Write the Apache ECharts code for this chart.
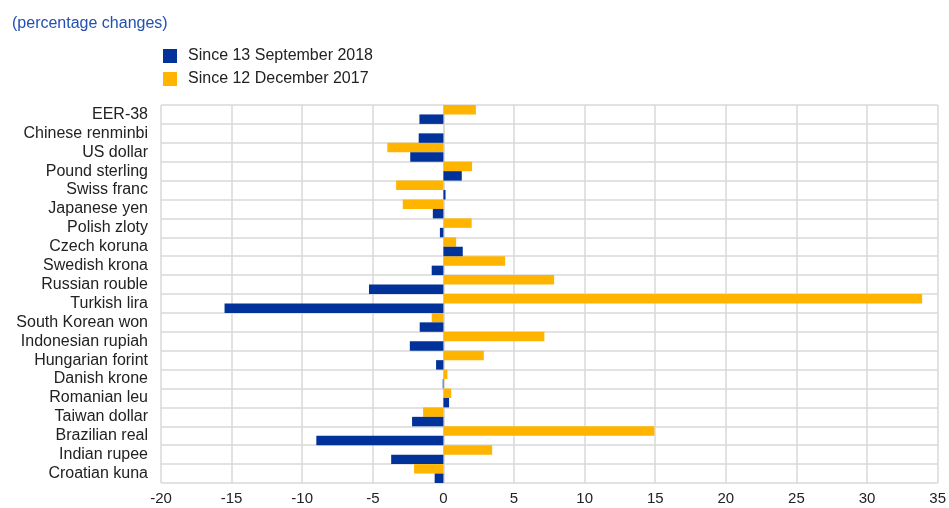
<!DOCTYPE html>
<html>
<head>
<meta charset="utf-8">
<script src="https://cdn.jsdelivr.net/npm/echarts@6/dist/echarts.min.js"></script>
<style>
  html, body { margin:0; padding:0; background:#fff; }
  #chart { width:949px; height:508px; }
</style>
</head>
<body>
<div id="chart"></div>
<script>

var currencies = ["EER-38","Chinese renminbi","US dollar","Pound sterling","Swiss franc","Japanese yen","Polish zloty","Czech koruna","Swedish krona","Russian rouble","Turkish lira","South Korean won","Indonesian rupiah","Hungarian forint","Danish krone","Romanian leu","Taiwan dollar","Brazilian real","Indian rupee","Croatian kuna"];

var sinceSep2018 = [-1.7,-1.75,-2.35,1.3,0.15,-0.75,-0.25,1.37,-0.83,-5.27,-15.5,-1.68,-2.38,-0.52,-0.05,0.4,-2.22,-9.0,-3.7,-0.62];

var sinceDec2017 = [2.3,0,-3.97,2.03,-3.35,-2.88,2.0,0.9,4.37,7.84,33.9,-0.83,7.15,2.86,0.28,0.55,-1.44,14.94,3.45,-2.08];

var xTicks = [-20,-15,-10,-5,0,5,10,15,20,25,30,35];

var chart = echarts.init(document.getElementById("chart"));

var option = {
  animation:false,
  textStyle:{
    fontFamily:"Liberation Sans, Arial, sans-serif"
  },

  title:{
    text:"(percentage changes)",
    left:7,
    top:11,
    textStyle:{
      color:"#2250b0",
      fontSize:16,
      fontWeight:"normal"
    }
  },

  legend:{
    orient:"vertical",
    left:158,
    top:43,
    icon:"rect",
    itemWidth:14,
    itemHeight:14,
    itemGap:7,
    data:["Since 13 September 2018","Since 12 December 2017"],
    textStyle:{
      color:"#222",
      fontSize:16,
      padding:[0,0,0,6]
    }
  },

  grid:{
    left:161,
    right:10,
    top:105,
    bottom:25
  },

  xAxis:{
    type:"value",
    min:xTicks[0],
    max:xTicks[xTicks.length-1],
    interval:5,
    axisLine:{show:false},
    axisTick:{show:false},
    axisLabel:{
      color:"#222",
      fontSize:15,
      margin:8
    },
    splitLine:{
      show:true,
      lineStyle:{color:"#d9d9d9",width:1.5}
    }
  },

  yAxis:{
    type:"category",
    inverse:true,
    data:currencies,
    axisLine:{
      show:true,
      lineStyle:{color:"#d9d9d9",width:1.5}
    },
    axisTick:{show:false},
    axisLabel:{
      interval:0,
      color:"#222",
      fontSize:16,
      margin:13
    },
    splitLine:{
      show:true,
      interval:0,
      lineStyle:{color:"#d9d9d9",width:1.5}
    }
  },

  series:[
    {
      name:"Since 12 December 2017",
      type:"bar",
      data:sinceDec2017,
      barGap:"0%",
      barCategoryGap:"0%",
      itemStyle:{color:"#ffb400"}
    },
    {
      name:"Since 13 September 2018",
      type:"bar",
      data:sinceSep2018,
      barGap:"0%",
      barCategoryGap:"0%",
      itemStyle:{color:"#003299"}
    }
  ]
};

chart.setOption(option);

</script>
</body>
</html>
